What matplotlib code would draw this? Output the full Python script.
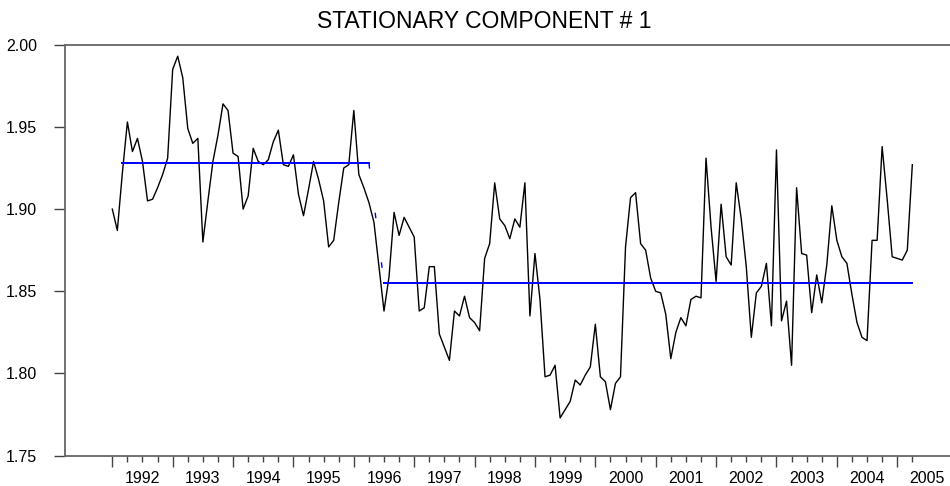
import matplotlib
matplotlib.use("Agg")
import matplotlib.pyplot as plt
import matplotlib.transforms as mtransforms
import numpy as np

plt.rcParams['font.family'] = ['Liberation Sans', 'DejaVu Sans']

# monthly series, starting 1992M01
start_year = 1992
component = [
    1.900, 1.887, 1.922, 1.953, 1.935, 1.943, 1.929, 1.905, 1.906, 1.913,
    1.921, 1.931, 1.985, 1.993, 1.980, 1.949, 1.940, 1.943, 1.880, 1.905,
    1.929, 1.945, 1.964, 1.960, 1.934, 1.932, 1.900, 1.908, 1.937, 1.929,
    1.927, 1.930, 1.941, 1.948, 1.927, 1.926, 1.933, 1.909, 1.896, 1.912,
    1.929, 1.918, 1.905, 1.877, 1.881, 1.904, 1.925, 1.927, 1.960, 1.921,
    1.913, 1.904, 1.892, 1.865, 1.838, 1.859, 1.898, 1.884, 1.895, 1.889,
    1.883, 1.838, 1.840, 1.865, 1.865, 1.824, 1.816, 1.808, 1.838, 1.835,
    1.847, 1.834, 1.831, 1.826, 1.870, 1.879, 1.916, 1.894, 1.890, 1.882,
    1.894, 1.889, 1.916, 1.835, 1.873, 1.845, 1.798, 1.799, 1.805, 1.773,
    1.778, 1.783, 1.796, 1.793, 1.799, 1.804, 1.830, 1.798, 1.795, 1.778,
    1.794, 1.798, 1.877, 1.907, 1.910, 1.879, 1.875, 1.858, 1.850, 1.849,
    1.836, 1.809, 1.825, 1.834, 1.829, 1.845, 1.847, 1.846, 1.931, 1.889,
    1.856, 1.903, 1.871, 1.866, 1.916, 1.894, 1.865, 1.822, 1.849, 1.853,
    1.867, 1.829, 1.936, 1.832, 1.844, 1.805, 1.913, 1.873, 1.872, 1.837,
    1.860, 1.843, 1.866, 1.902, 1.881, 1.871, 1.867, 1.848, 1.831, 1.822,
    1.820, 1.881, 1.881, 1.938, 1.906, 1.871, 1.870, 1.869, 1.875, 1.927,
]

# regime means (index ranges in months from start)
regime1_level = 1.928
regime1_span = (2, 51)
regime2_level = 1.855
regime2_span = (54, 159)

year_labels = [str(y) for y in range(1992, 2006)]
y_ticks = [1.75, 1.80, 1.85, 1.90, 1.95, 2.00]

x = start_year + np.arange(len(component)) / 12.0

fig = plt.figure(figsize=(9.5, 4.86), dpi=100)
ax = fig.add_axes([65 / 950, 30.3 / 486, 885 / 950, 411 / 486])

ax.plot(x, component, color='black', lw=1.0)

a, b = regime1_span
ax.plot([x[a], x[b]], [regime1_level, regime1_level], color='#0000ff', lw=1.4)
c, d = regime2_span
ax.plot([x[c], x[d]], [regime2_level, regime2_level], color='#0000ff', lw=1.4)
ax.plot([x[b], x[c]], [regime1_level, regime2_level], color='#0000ff', lw=1.0,
        dashes=(4, 32))

ax.set_xlim(1991.2166, 2005.874)
ax.set_ylim(1.75, 2.00)

years = np.arange(1992, 2006)
ax.set_xticks(years)
ax.set_xticklabels(year_labels)
quarters = [yy + q / 4 for yy in range(1992, 2006) for q in (1, 2, 3) if yy + q / 4 <= 2005.3]
ax.set_xticks(quarters, minor=True)

ax.set_yticks(y_ticks)
ax.set_yticklabels([f"{v:.2f}" for v in y_ticks])

ax.tick_params(axis='x', which='major', direction='out', length=8, width=1.0,
               color='#444444', labelsize=11.5, pad=3)
ax.tick_params(axis='x', which='minor', direction='out', length=4.5, width=1.0,
               color='#444444')
ax.tick_params(axis='y', direction='out', length=8, width=1.0,
               color='#444444', labelsize=11.5, pad=12)

# year labels sit in the middle of each year
offset = mtransforms.ScaledTranslation(30.2 / 100, 0, fig.dpi_scale_trans)
for lab in ax.get_xticklabels():
    lab.set_transform(lab.get_transform() + offset)

for side in ('top', 'left', 'bottom'):
    ax.spines[side].set_color('#666666')
    ax.spines[side].set_linewidth(1.3)
ax.spines['right'].set_visible(False)

fig.text(484 / 950, 1 - 21.5 / 486, "STATIONARY COMPONENT # 1", ha='center', va='center',
         fontsize=16.5)

fig.savefig("out.png", dpi=100)
